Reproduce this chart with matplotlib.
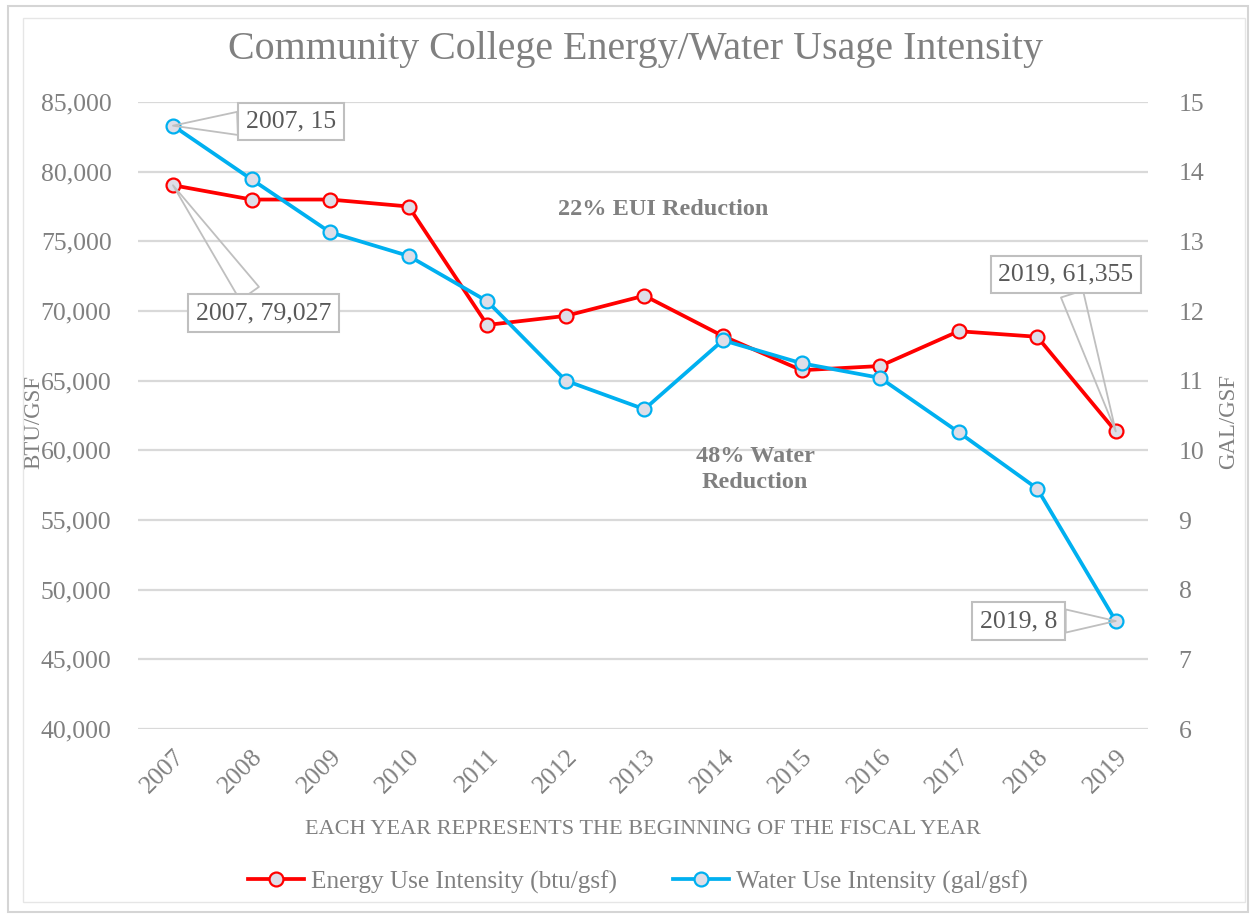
import matplotlib
matplotlib.use("Agg")
import matplotlib.pyplot as plt
from matplotlib.patches import Rectangle

years = ["2007", "2008", "2009", "2010", "2011", "2012", "2013",
         "2014", "2015", "2016", "2017", "2018", "2019"]
energy = [79027, 78000, 78000, 77500, 69000, 69650, 71100,
          68200, 65750, 66050, 68550, 68150, 61355]
water = [14.66, 13.89, 13.13, 12.79, 12.14, 11.0, 10.59,
         11.58, 11.25, 11.04, 10.26, 9.45, 7.55]

energy_ticks = list(range(40000, 85001, 5000))
water_ticks = list(range(6, 16))

RED = "#FF0000"
BLUE = "#00B0F0"
GRAY = "#808080"
GRID = "#D9D9D9"
MFACE = "#DEDEE8"
FONT = "Liberation Serif"

plt.rcParams["font.family"] = FONT

fig = plt.figure(figsize=(12.54, 9.16), dpi=100)
W, H = 1254, 916

# page/frame lines around the chart
fig.patches.append(Rectangle((8 / W, 4 / H), 1240 / W, 906 / H, transform=fig.transFigure,
                             fill=False, ec="#D5D5D5", lw=1.5))
fig.patches.append(Rectangle((23 / W, 14 / H), 1222 / W, 884 / H, transform=fig.transFigure,
                             fill=False, ec="#E6E6E6", lw=1.0))

ax = fig.add_axes([138 / W, 1 - 729 / H, 1010 / W, 627 / H])
ax2 = ax.twinx()

x = list(range(len(years)))
ax.plot(x, energy, color=RED, lw=2.7, marker="o", ms=10, mfc=MFACE, mec=RED, mew=1.6,
        label="Energy Use Intensity (btu/gsf)", zorder=3)
ax2.plot(x, water, color=BLUE, lw=2.7, marker="o", ms=10, mfc=MFACE, mec=BLUE, mew=1.6,
         label="Water Use Intensity (gal/gsf)", zorder=3)

ax.set_xlim(-0.445, 12.41)
ax.set_ylim(energy_ticks[0], energy_ticks[-1])
ax2.set_ylim(water_ticks[0], water_ticks[-1])
ax.set_yticks(energy_ticks)
ax.set_yticklabels([f"{v:,}" for v in energy_ticks])
ax2.set_yticks(water_ticks)
ax.set_xticks(x)
ax.set_xticklabels(years, rotation=45, ha="right", rotation_mode="anchor")

for a in (ax, ax2):
    for s in a.spines.values():
        s.set_visible(False)
    a.tick_params(length=0, colors=GRAY, labelsize=18.5)
ax.tick_params(axis="y", pad=19)
ax2.tick_params(axis="y", pad=22)
ax.tick_params(axis="x", pad=12)
ax.grid(axis="y", color=GRID, lw=1.6)
ax.set_axisbelow(True)

ax.set_ylabel("BTU/GSF", color=GRAY, fontsize=16.5)
ax.yaxis.set_label_coords(-0.093, 0.49)
ax2.set_ylabel("GAL/GSF", color=GRAY, fontsize=16.5)
ax2.yaxis.set_label_coords(1.069, 0.49)
ax.set_xlabel("EACH YEAR REPRESENTS THE BEGINNING OF THE FISCAL YEAR", color=GRAY, fontsize=16,
              labelpad=16)

fig.text(635 / W, 1 - 50 / H, "Community College Energy/Water Usage Intensity",
         ha="center", va="center", color=GRAY, fontsize=28.8)

ax.text(0.52, 0.828, "22% EUI Reduction", transform=ax.transAxes, ha="center", va="center",
        color=GRAY, fontsize=17.5, fontweight="bold")
ax.text(0.611, 0.414, "48% Water\nReduction", transform=ax.transAxes, ha="center", va="center",
        color=GRAY, fontsize=17.5, fontweight="bold", linespacing=1.35)

box = dict(boxstyle="square,pad=0.3", fc="white", ec="#BFBFBF", lw=1.5)
wedge = dict(arrowstyle="wedge,tail_width=0.9", fc="none", ec="#BFBFBF", lw=1.3,
             shrinkA=0, shrinkB=0)


def callout(a, i, val, text, dx, dy, arrow):
    a.annotate(text, xy=(i, val), xytext=(dx, dy), textcoords="offset points",
               ha="center", va="center", fontsize=18.5, color="#595959", bbox=box,
               arrowprops=arrow, zorder=5)


callout(ax2, 0, water[0], f"{years[0]}, {round(water[0])}", 85, 3, wedge)
callout(ax, 0, energy[0], f"{years[0]}, {energy[0]:,}", 65, -92, wedge)
callout(ax, 12, energy[-1], f"{years[-1]}, {energy[-1]:,}", -36, 113, wedge)
callout(ax2, 12, water[-1], f"{years[-1]}, {round(water[-1])}", -70, 0, wedge)

h1, l1 = ax.get_legend_handles_labels()
h2, l2 = ax2.get_legend_handles_labels()
leg = fig.legend(h1 + h2, l1 + l2, loc="center", bbox_to_anchor=(638 / W, 1 - 882 / H), ncol=2,
                 frameon=False, fontsize=18.2, labelcolor=GRAY, handlelength=2.2, handletextpad=0.3,
                 columnspacing=2.2)

fig.savefig("out.png", dpi=100, facecolor="white")
